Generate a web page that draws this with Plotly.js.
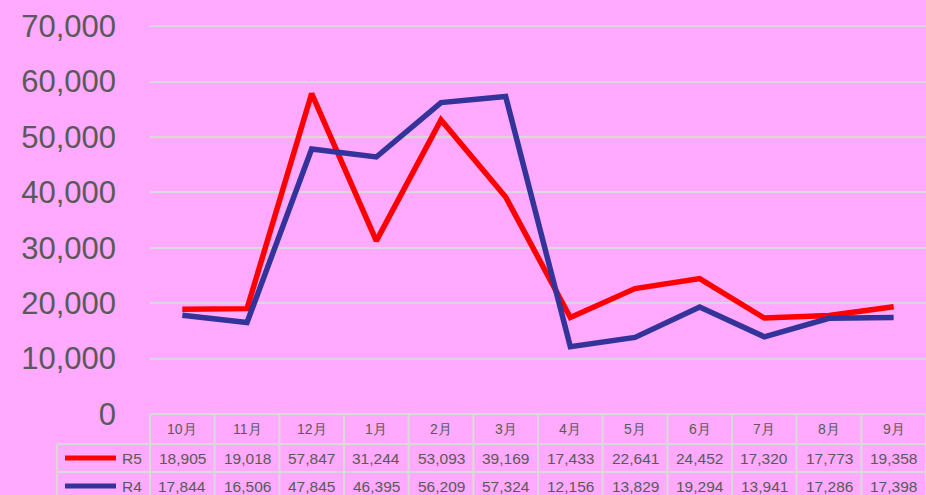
<!DOCTYPE html>
<html>
<head>
<meta charset="utf-8">
<script src="https://cdn.plot.ly/plotly-3.0.1.min.js"></script>
<style>
  html, body { margin: 0; padding: 0; background: #FFAAFF; }
  #chart { width: 926px; height: 495px; }
</style>
</head>
<body>
<div id="chart"></div>
<script>
// months and monthly values, as shown in the data table
var months = ['10月', '11月', '12月', '1月', '2月', '3月', '4月', '5月', '6月', '7月', '8月', '9月'];
var r5 = [18905, 19018, 57847, 31244, 53093, 39169, 17433, 22641, 24452, 17320, 17773, 19358];
var r4 = [17844, 16506, 47845, 46395, 56209, 57324, 12156, 13829, 19294, 13941, 17286, 17398];
var seriesNames = ['R5', 'R4'];
var seriesColors = ['#FF0000', '#333399'];

var txtColor = '#595959';
var gridColor = '#D9D9D9';
var font = 'Liberation Sans, Arial, sans-serif';

// pixel helpers for the table below the plot (plot area: x 150..926, y 24..414)
function py(p) { return (414 - p) / 390; }
function px(p) { return (p - 150) / 776; }

var xs = months.map(function (m, i) { return i; });

var traces = [r5, r4].map(function (vals, k) {
  return {
    x: xs,
    y: vals,
    type: 'scatter',
    mode: 'lines',
    name: seriesNames[k],
    line: { color: seriesColors[k], width: 5.5 },
    hoverinfo: 'skip'
  };
});

var shapes = [];
var annotations = [];
var rowY = [py(458), py(486)];

// horizontal borders
shapes.push({ type: 'line', xref: 'paper', yref: 'paper', x0: 0, x1: 1, y0: py(414), y1: py(414),
  line: { color: gridColor, width: 2 } });
[444, 472].forEach(function (p) {
  shapes.push({ type: 'line', xref: 'paper', yref: 'paper', x0: px(57), x1: 1, y0: py(p), y1: py(p),
    line: { color: gridColor, width: 2 } });
});
// vertical borders
for (var i = 0; i <= months.length; i++) {
  shapes.push({ type: 'line', xref: 'paper', yref: 'paper', x0: i / months.length, x1: i / months.length,
    y0: py(414), y1: py(500), line: { color: gridColor, width: 2 } });
}
shapes.push({ type: 'line', xref: 'paper', yref: 'paper', x0: px(57), x1: px(57),
  y0: py(444), y1: py(500), line: { color: gridColor, width: 2 } });

// header row
months.forEach(function (m, i) {
  annotations.push({ xref: 'x', yref: 'paper', x: i, y: py(429), text: m, showarrow: false,
    xanchor: 'center', yanchor: 'middle', font: { family: font, size: 14, color: txtColor } });
});

// value rows + legend keys
[r5, r4].forEach(function (vals, k) {
  vals.forEach(function (v, i) {
    annotations.push({ xref: 'x', yref: 'paper', x: i, y: rowY[k], text: v.toLocaleString('en-US'),
      showarrow: false, xanchor: 'center', yanchor: 'middle',
      font: { family: font, size: 15.5, color: txtColor } });
  });
  shapes.push({ type: 'line', xref: 'paper', yref: 'paper', x0: px(65), x1: px(116),
    y0: rowY[k], y1: rowY[k], line: { color: seriesColors[k], width: 5 } });
  annotations.push({ xref: 'paper', yref: 'paper', x: px(120), y: rowY[k], text: seriesNames[k],
    showarrow: false, xanchor: 'left', yanchor: 'middle',
    font: { family: font, size: 15.5, color: txtColor } });
});

var layout = {
  width: 926,
  height: 495,
  paper_bgcolor: '#FFAAFF',
  plot_bgcolor: '#FFAAFF',
  margin: { l: 150, r: 0, t: 24, b: 81 },
  showlegend: false,
  xaxis: {
    range: [-0.5, months.length - 0.5],
    showgrid: false,
    zeroline: false,
    showline: false,
    showticklabels: false,
    ticks: ''
  },
  yaxis: {
    range: [0, 70400],
    tickvals: [0, 10000, 20000, 30000, 40000, 50000, 60000, 70000],
    tickformat: ',d',
    showgrid: true,
    gridcolor: gridColor,
    gridwidth: 2,
    zeroline: false,
    showline: false,
    ticks: '',
    ticklabelstandoff: 33,
    tickfont: { family: font, size: 31, color: txtColor }
  },
  shapes: shapes,
  annotations: annotations
};

Plotly.newPlot('chart', traces, layout, { displayModeBar: false, staticPlot: true });
</script>
</body>
</html>
